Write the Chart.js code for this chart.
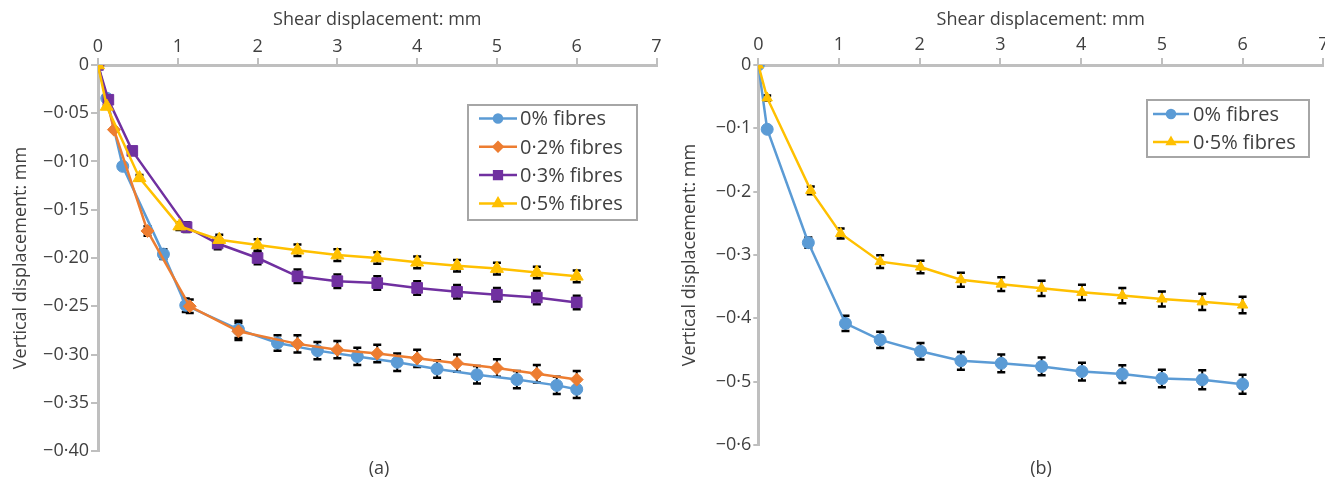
<!DOCTYPE html>
<html>
<head>
<meta charset="utf-8">
<script src="https://cdn.jsdelivr.net/npm/chart.js@4/dist/chart.umd.min.js"></script>
<style>
  html, body { margin: 0; padding: 0; background: #fff; overflow: hidden; }
  body { width: 1325px; height: 483px; position: relative; }
  canvas { position: absolute; top: 0; }
  #chart-a { left: 0; }
  #chart-b { left: 665px; }
  .caption {
    position: absolute; top: 455px; width: 60px; text-align: center;
    font: 18px 'Open Sans', sans-serif; color: #404040;
  }
</style>
</head>
<body>
<canvas id="chart-a" width="665" height="483"></canvas>
<canvas id="chart-b" width="666" height="483"></canvas>
<div class="caption" style="left:349px">(a)</div>
<div class="caption" style="left:1011px">(b)</div>
<script>
// (a) settlement curves for four fibre contents
const a0X = [0, 0.11, 0.31, 0.82, 1.1, 1.76, 2.25, 2.75, 3.25, 3.75, 4.25, 4.75, 5.25, 5.75, 6.0];
const a0Y = [0, -0.0345, -0.105, -0.196, -0.249, -0.274, -0.288, -0.296, -0.302, -0.308, -0.315, -0.321, -0.326, -0.332, -0.336];
const a0E = [0, 0.002, 0.003, 0.005, 0.007, 0.009, 0.008, 0.009, 0.009, 0.009, 0.009, 0.009, 0.009, 0.009, 0.009];

const a2X = [0, 0.2, 0.62, 1.15, 1.76, 2.5, 3.0, 3.5, 4.0, 4.5, 5.0, 5.5, 6.0];
const a2Y = [0, -0.067, -0.172, -0.250, -0.276, -0.289, -0.295, -0.299, -0.304, -0.309, -0.314, -0.320, -0.326];
const a2E = [0, 0.002, 0.005, 0.007, 0.009, 0.009, 0.009, 0.009, 0.009, 0.009, 0.009, 0.009, 0.009];

const a3X = [0, 0.13, 0.43, 1.11, 1.5, 2.0, 2.5, 3.0, 3.5, 4.0, 4.5, 5.0, 5.5, 6.0];
const a3Y = [0, -0.036, -0.089, -0.168, -0.185, -0.200, -0.219, -0.224, -0.226, -0.231, -0.235, -0.238, -0.241, -0.246];
const a3E = [0, 0.001, 0.002, 0.005, 0.006, 0.0065, 0.007, 0.007, 0.007, 0.007, 0.007, 0.007, 0.007, 0.007];

const a5X = [0, 0.11, 0.52, 1.02, 1.52, 2.0, 2.5, 3.0, 3.5, 4.0, 4.5, 5.0, 5.5, 6.0];
const a5Y = [0, -0.043, -0.117, -0.167, -0.181, -0.1865, -0.192, -0.197, -0.200, -0.2045, -0.208, -0.211, -0.215, -0.219];
const a5E = [0, 0.001, 0.003, 0.004, 0.005, 0.006, 0.006, 0.006, 0.006, 0.006, 0.006, 0.006, 0.006, 0.006];

// (b) plain soil against 0.5% fibres
const b0X = [0, 0.11, 0.62, 1.08, 1.51, 2.01, 2.51, 3.01, 3.51, 4.01, 4.51, 5.0, 5.5, 6.0];
const b0Y = [0, -0.1015, -0.2805, -0.408, -0.434, -0.452, -0.467, -0.471, -0.476, -0.484, -0.488, -0.495, -0.497, -0.504];
const b0E = [0, 0, 0.008, 0.012, 0.013, 0.013, 0.014, 0.014, 0.014, 0.014, 0.014, 0.014, 0.015, 0.015];

const b5X = [0, 0.11, 0.65, 1.02, 1.51, 2.01, 2.51, 3.01, 3.51, 4.01, 4.51, 5.0, 5.5, 6.0];
const b5Y = [0, -0.052, -0.198, -0.266, -0.3105, -0.319, -0.339, -0.346, -0.3526, -0.359, -0.364, -0.3695, -0.374, -0.379];
const b5E = [0, 0.004, 0.006, 0.008, 0.010, 0.010, 0.011, 0.011, 0.012, 0.012, 0.012, 0.012, 0.013, 0.013];

const labelsA = ['0% fibres', '0·2% fibres', '0·3% fibres', '0·5% fibres'];
const labelsB = ['0% fibres', '0·5% fibres'];

const BLUE = '#5b9bd5', ORANGE = '#ed7d31', PURPLE = '#7030a0', GOLD = '#ffc000';
const AXIS = '#bfbfbf', TEXT = '#404040';

Chart.defaults.font.family = "'Open Sans', sans-serif";
Chart.defaults.font.size = 18;
Chart.defaults.color = TEXT;

const zip = (xs, ys) => xs.map((x, i) => ({ x, y: ys[i] }));

// "−0·05" style labels
function fmtTick(decimals) {
  return v => Math.abs(v) < 1e-9 ? '0' : '\u2212' + Math.abs(v).toFixed(decimals).replace('.', '·');
}

function series(label, xs, ys, errs, color, style, radius, legendRadius, order) {
  return {
    label, data: zip(xs, ys), errors: errs,
    borderColor: color, backgroundColor: color,
    pointBackgroundColor: color, pointBorderColor: color,
    pointStyle: style, pointRadius: radius, pointBorderWidth: 1,
    legendRadius, borderWidth: 2.5, tension: 0, order,
  };
}

const errorBars = {
  id: 'errorBars',
  beforeDatasetsDraw(chart) {
    const { ctx, scales: { x, y } } = chart;
    ctx.save();
    ctx.strokeStyle = '#000';
    chart.data.datasets.forEach(ds => {
      ds.data.forEach((pt, j) => {
        const e = ds.errors[j];
        if (!e) return;
        const px = x.getPixelForValue(pt.x);
        const top = y.getPixelForValue(pt.y + e);
        const bot = y.getPixelForValue(pt.y - e);
        ctx.lineWidth = 2;
        ctx.beginPath();
        ctx.moveTo(px, top); ctx.lineTo(px, bot);
        ctx.stroke();
        ctx.lineWidth = 2.5;
        ctx.beginPath();
        ctx.moveTo(px - 4, top); ctx.lineTo(px + 4, top);
        ctx.moveTo(px - 4, bot); ctx.lineTo(px + 4, bot);
        ctx.stroke();
      });
    });
    ctx.restore();
  }
};

// boxed legend placed inside the plot, Excel style
const boxLegend = {
  id: 'boxLegend',
  afterDraw(chart, args, o) {
    const ctx = chart.ctx;
    ctx.save();
    ctx.fillStyle = '#fff';
    ctx.fillRect(o.left, o.top, o.width, o.height);
    ctx.strokeStyle = '#a6a6a6';
    ctx.lineWidth = 2;
    ctx.strokeRect(o.left, o.top, o.width, o.height);
    ctx.font = o.fontSize + "px 'Open Sans', sans-serif";
    ctx.textBaseline = 'middle';
    chart.data.datasets.forEach((ds, i) => {
      const cy = o.top + o.firstRow + i * o.rowHeight;
      ctx.strokeStyle = ds.borderColor;
      ctx.lineWidth = 2.5;
      ctx.beginPath();
      ctx.moveTo(o.left + o.lineFrom, cy);
      ctx.lineTo(o.left + o.lineTo, cy);
      ctx.stroke();
      ctx.fillStyle = ds.borderColor;
      Chart.helpers.drawPoint(ctx, {
        pointStyle: ds.pointStyle, radius: ds.legendRadius, borderWidth: 1, rotation: 0
      }, o.left + (o.lineFrom + o.lineTo) / 2, cy);
      ctx.fill();
      ctx.fillStyle = TEXT;
      ctx.fillText(ds.label, o.left + o.textX, cy + 1);
    });
    ctx.restore();
  }
};

function makeChart(id, datasets, opt) {
  return new Chart(document.getElementById(id), {
    type: 'line',
    data: { datasets },
    plugins: [errorBars, boxLegend],
    options: {
      responsive: false,
      animation: false,
      layout: { padding: { top: 0, left: 0, right: opt.padRight, bottom: opt.padBottom } },
      plugins: {
        legend: { display: false },
        tooltip: { enabled: false },
        boxLegend: opt.legend,
      },
      scales: {
        x: {
          type: 'linear', position: 'top', min: 0, max: 7,
          afterFit: s => { s.height = 65; },
          ticks: { stepSize: 1, padding: opt.xTickPad, maxRotation: 0 },
          grid: { drawOnChartArea: false, drawTicks: true, tickLength: 7, color: AXIS, lineWidth: 2 },
          border: { color: AXIS, width: 3 },
          title: { display: true, text: 'Shear displacement: mm', padding: { top: 9, bottom: 0 } },
        },
        y: {
          type: 'linear', position: 'left', min: opt.yMin, max: 0,
          afterFit: s => { s.width = opt.yWidth; },
          ticks: { stepSize: opt.yStep, padding: opt.yTickPad, callback: fmtTick(opt.decimals) },
          grid: { drawOnChartArea: false, drawTicks: true, tickLength: opt.yTickLen, color: AXIS, lineWidth: 2 },
          border: { color: AXIS, width: 3 },
          title: { display: true, text: 'Vertical displacement: mm', padding: { top: opt.yTitlePad, bottom: 0 } },
        },
      },
    },
  });
}

makeChart('chart-a', [
  series(labelsA[0], a0X, a0Y, a0E, BLUE, 'circle', 6, 4, 4),
  series(labelsA[1], a2X, a2Y, a2E, ORANGE, 'rectRot', 6.5, 4.5, 3),
  series(labelsA[2], a3X, a3Y, a3E, PURPLE, 'rect', 7.5, 5.5, 2),
  series(labelsA[3], a5X, a5Y, a5E, GOLD, 'triangle', 7.5, 5, 1),
], {
  padRight: 8, padBottom: 32, yMin: -0.4, yStep: 0.05, decimals: 2,
  yWidth: 98, yTickLen: 7, yTickPad: 2, xTickPad: 0, yTitlePad: 10,
  legend: { left: 468, top: 105, width: 169, height: 115, firstRow: 13.5, rowHeight: 28.3,
            lineFrom: 11, lineTo: 49, textX: 52, fontSize: 20 },
});

makeChart('chart-b', [
  series(labelsB[0], b0X, b0Y, b0E, BLUE, 'circle', 6, 4, 2),
  series(labelsB[1], b5X, b5Y, b5E, GOLD, 'triangle', 6, 4, 1),
], {
  padRight: 7.7, padBottom: 38, yMin: -0.6, yStep: 0.1, decimals: 1,
  yWidth: 93.3, yTickLen: 5, yTickPad: 2, xTickPad: 2, yTitlePad: 14,
  legend: { left: 482, top: 100, width: 162, height: 57, firstRow: 14, rowHeight: 28,
            lineFrom: 6, lineTo: 42, textX: 46, fontSize: 20 },
});
</script>
</body>
</html>
